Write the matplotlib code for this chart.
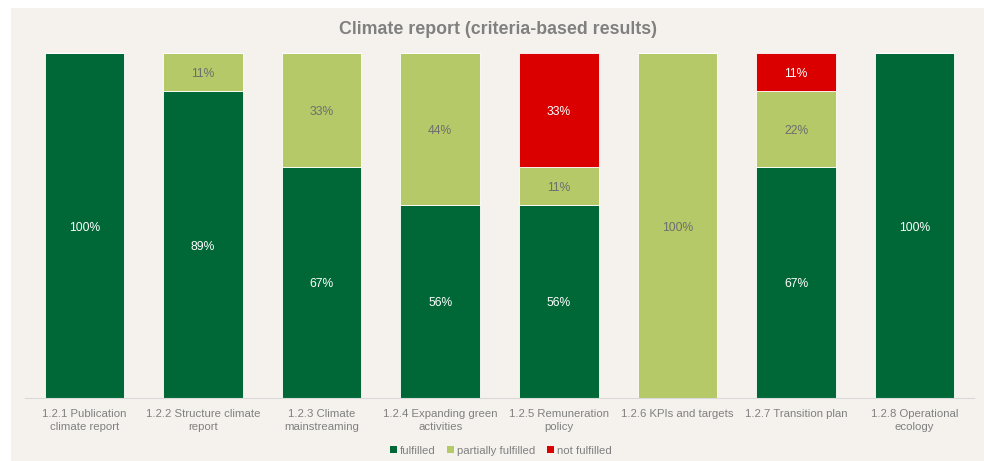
import matplotlib
matplotlib.use('Agg')
import matplotlib.pyplot as plt
from matplotlib.patches import Rectangle, Patch
import numpy as np

categories = ['1.2.1 Publication\nclimate report', '1.2.2 Structure climate\nreport',
              '1.2.3 Climate\nmainstreaming', '1.2.4 Expanding green\nactivities',
              '1.2.5 Remuneration\npolicy', '1.2.6 KPIs and targets',
              '1.2.7 Transition plan', '1.2.8 Operational\necology']
fulfilled = [100, 89, 67, 56, 56, 0, 67, 100]
partially = [0, 11, 33, 44, 11, 100, 22, 0]
not_fulfilled = [0, 0, 0, 0, 33, 0, 11, 0]

series = [('fulfilled', fulfilled, '#006837', 'white'),
          ('partially fulfilled', partially, '#B5C968', '#6E6E6E'),
          ('not fulfilled', not_fulfilled, '#DA0000', 'white')]

plt.rcParams['font.family'] = ['Liberation Sans', 'DejaVu Sans']

fig = plt.figure(figsize=(9.84, 4.61), dpi=100)
fig.patch.set_facecolor('white')
fig.patches.append(Rectangle((11 / 984, 0), 1 - 11 / 984, 453 / 461,
                             transform=fig.transFigure, facecolor='#F5F2EE',
                             edgecolor='none', zorder=-5))

ax = fig.add_axes([25 / 984, 63 / 461, 949 / 984, 345 / 461])
ax.set_facecolor('none')

x = np.arange(len(categories))
bottom = np.zeros(len(categories))
for name, vals, color, tcolor in series:
    vals = np.array(vals, dtype=float)
    ax.bar(x, vals, 0.67, bottom=bottom, color=color, edgecolor='white',
           linewidth=0.6, label=name)
    for xi, b, v in zip(x, bottom, vals):
        if v > 0:
            ax.text(xi, b + v / 2 - 0.6, f'{v:.0f}%', ha='center', va='center',
                    fontsize=8.7, color=tcolor)
    bottom += vals

ax.set_xlim(-0.5, len(categories) - 0.5)
ax.set_ylim(0, 100)
ax.set_xticks(x)
ax.set_xticklabels(categories, fontsize=8.2, color='#808080', linespacing=1.4)
ax.tick_params(axis='x', length=0, pad=8)
ax.set_yticks([])
for s in ['top', 'left', 'right']:
    ax.spines[s].set_visible(False)
ax.spines['bottom'].set_color('#D9D9D9')
ax.spines['bottom'].set_linewidth(0.8)

fig.text(0.506, 0.937, 'Climate report (criteria-based results)', ha='center',
         va='center', fontsize=12.8, fontweight='bold', color='#808080')

handles = [Patch(facecolor=c, edgecolor='none') for _, _, c, _ in series]
fig.legend(handles, [n for n, _, _, _ in series], loc='center',
           bbox_to_anchor=(0.509, 0.022), ncol=3, frameon=False, fontsize=8.2,
           handlelength=0.6, handleheight=0.6, handletextpad=0.3,
           columnspacing=1.0, labelcolor='#808080')

fig.savefig('out.png', dpi=100, facecolor=fig.get_facecolor())
